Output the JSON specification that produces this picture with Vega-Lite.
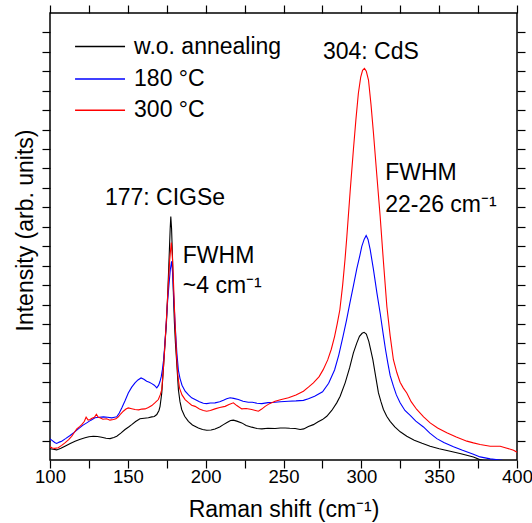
{
  "$schema": "https://vega.github.io/schema/vega-lite/v6.json",
  "width": 467,
  "height": 447,
  "autosize": {"type": "none"},
  "padding": {"left": 50, "top": 13, "right": 15, "bottom": 63},
  "config": {
    "font": "Liberation Sans",
    "view": {"stroke": "black", "strokeWidth": 1.5},
    "axis": {"grid": false, "domain": false, "tickColor": "black", "tickWidth": 1.2, "labelColor": "black", "titleColor": "black", "labelFont": "Liberation Sans", "titleFont": "Liberation Sans", "titleFontWeight": "normal"},
    "text": {"font": "Liberation Sans"}
  },
  "datasets": {
    "black": [
      {"series":"w.o. annealing","x":100,"y":0.58},{"series":"w.o. annealing","x":102,"y":0.55},{"series":"w.o. annealing","x":104.3,"y":0.52},{"series":"w.o. annealing","x":107,"y":0.6},{"series":"w.o. annealing","x":109.6,"y":0.71},{"series":"w.o. annealing","x":113,"y":0.85},{"series":"w.o. annealing","x":116.1,"y":0.97},{"series":"w.o. annealing","x":119,"y":1.06},{"series":"w.o. annealing","x":122.5,"y":1.14},{"series":"w.o. annealing","x":125,"y":1.2},{"series":"w.o. annealing","x":127.8,"y":1.22},{"series":"w.o. annealing","x":130.5,"y":1.21},{"series":"w.o. annealing","x":133.2,"y":1.17},{"series":"w.o. annealing","x":136,"y":1.12},{"series":"w.o. annealing","x":138.6,"y":1.1},{"series":"w.o. annealing","x":141,"y":1.16},{"series":"w.o. annealing","x":142.9,"y":1.22},{"series":"w.o. annealing","x":145.5,"y":1.38},{"series":"w.o. annealing","x":148.2,"y":1.57},{"series":"w.o. annealing","x":150.5,"y":1.7},{"series":"w.o. annealing","x":152.5,"y":1.82},{"series":"w.o. annealing","x":155,"y":1.98},{"series":"w.o. annealing","x":157.8,"y":2.12},{"series":"w.o. annealing","x":160.5,"y":2.15},{"series":"w.o. annealing","x":163.2,"y":2.17},{"series":"w.o. annealing","x":165.4,"y":2.22},{"series":"w.o. annealing","x":167,"y":2.24},{"series":"w.o. annealing","x":168.6,"y":2.34},{"series":"w.o. annealing","x":170,"y":2.55},{"series":"w.o. annealing","x":170.7,"y":2.76},{"series":"w.o. annealing","x":171.8,"y":3.45},{"series":"w.o. annealing","x":172.8,"y":4.65},{"series":"w.o. annealing","x":173.9,"y":6.02},{"series":"w.o. annealing","x":174.8,"y":7.05},{"series":"w.o. annealing","x":175.8,"y":8.9},{"series":"w.o. annealing","x":176.6,"y":10.6},{"series":"w.o. annealing","x":177.2,"y":11.9},{"series":"w.o. annealing","x":177.6,"y":12.53},{"series":"w.o. annealing","x":178.1,"y":11.9},{"series":"w.o. annealing","x":178.7,"y":10.4},{"series":"w.o. annealing","x":179.3,"y":8.5},{"series":"w.o. annealing","x":179.9,"y":7.1},{"series":"w.o. annealing","x":180.6,"y":6.0},{"series":"w.o. annealing","x":181.4,"y":5.0},{"series":"w.o. annealing","x":182.5,"y":3.6},{"series":"w.o. annealing","x":183.5,"y":3.0},{"series":"w.o. annealing","x":184.6,"y":2.6},{"series":"w.o. annealing","x":186.5,"y":2.25},{"series":"w.o. annealing","x":188.9,"y":1.99},{"series":"w.o. annealing","x":191.5,"y":1.8},{"series":"w.o. annealing","x":195.3,"y":1.65},{"series":"w.o. annealing","x":198,"y":1.57},{"series":"w.o. annealing","x":200.7,"y":1.53},{"series":"w.o. annealing","x":203.5,"y":1.54},{"series":"w.o. annealing","x":206,"y":1.6},{"series":"w.o. annealing","x":209,"y":1.7},{"series":"w.o. annealing","x":211.4,"y":1.82},{"series":"w.o. annealing","x":214,"y":1.94},{"series":"w.o. annealing","x":216,"y":2.03},{"series":"w.o. annealing","x":217.8,"y":2.05},{"series":"w.o. annealing","x":220,"y":2.0},{"series":"w.o. annealing","x":223.2,"y":1.91},{"series":"w.o. annealing","x":226,"y":1.78},{"series":"w.o. annealing","x":229.6,"y":1.69},{"series":"w.o. annealing","x":233,"y":1.62},{"series":"w.o. annealing","x":236.1,"y":1.6},{"series":"w.o. annealing","x":240,"y":1.63},{"series":"w.o. annealing","x":244.6,"y":1.62},{"series":"w.o. annealing","x":248,"y":1.65},{"series":"w.o. annealing","x":251,"y":1.65},{"series":"w.o. annealing","x":254,"y":1.63},{"series":"w.o. annealing","x":257.5,"y":1.62},{"series":"w.o. annealing","x":260.7,"y":1.57},{"series":"w.o. annealing","x":263,"y":1.6},{"series":"w.o. annealing","x":266,"y":1.72},{"series":"w.o. annealing","x":269.2,"y":1.82},{"series":"w.o. annealing","x":272,"y":1.95},{"series":"w.o. annealing","x":275,"y":2.08},{"series":"w.o. annealing","x":277.8,"y":2.25},{"series":"w.o. annealing","x":281,"y":2.55},{"series":"w.o. annealing","x":284.2,"y":2.94},{"series":"w.o. annealing","x":286.4,"y":3.28},{"series":"w.o. annealing","x":289.6,"y":3.97},{"series":"w.o. annealing","x":292.5,"y":4.75},{"series":"w.o. annealing","x":294.9,"y":5.51},{"series":"w.o. annealing","x":297,"y":6.0},{"series":"w.o. annealing","x":298.8,"y":6.36},{"series":"w.o. annealing","x":300.5,"y":6.52},{"series":"w.o. annealing","x":301.8,"y":6.57},{"series":"w.o. annealing","x":303.2,"y":6.48},{"series":"w.o. annealing","x":304.8,"y":6.1},{"series":"w.o. annealing","x":306.2,"y":5.6},{"series":"w.o. annealing","x":307.4,"y":5.16},{"series":"w.o. annealing","x":309.2,"y":4.3},{"series":"w.o. annealing","x":311,"y":3.45},{"series":"w.o. annealing","x":312.6,"y":3.0},{"series":"w.o. annealing","x":314.2,"y":2.6},{"series":"w.o. annealing","x":316.3,"y":2.25},{"series":"w.o. annealing","x":318.5,"y":1.99},{"series":"w.o. annealing","x":321.5,"y":1.7},{"series":"w.o. annealing","x":325,"y":1.45},{"series":"w.o. annealing","x":329.2,"y":1.22},{"series":"w.o. annealing","x":334,"y":1.02},{"series":"w.o. annealing","x":339,"y":0.86},{"series":"w.o. annealing","x":344.2,"y":0.71},{"series":"w.o. annealing","x":350,"y":0.58},{"series":"w.o. annealing","x":357.1,"y":0.45},{"series":"w.o. annealing","x":364,"y":0.32},{"series":"w.o. annealing","x":372,"y":0.15},{"series":"w.o. annealing","x":376,"y":0.02},{"series":"w.o. annealing","x":380,"y":-0.05},{"series":"w.o. annealing","x":390,"y":-0.15},{"series":"w.o. annealing","x":400,"y":-0.2}
    ],
    "blue": [
      {"series":"180 °C","x":100,"y":1.09},{"series":"180 °C","x":101.5,"y":1.0},{"series":"180 °C","x":103,"y":0.9},{"series":"180 °C","x":104.3,"y":0.85},{"series":"180 °C","x":106,"y":0.92},{"series":"180 °C","x":107.5,"y":0.97},{"series":"180 °C","x":110,"y":1.1},{"series":"180 °C","x":112.9,"y":1.26},{"series":"180 °C","x":115.5,"y":1.42},{"series":"180 °C","x":118.2,"y":1.6},{"series":"180 °C","x":121,"y":1.78},{"series":"180 °C","x":123.6,"y":1.91},{"series":"180 °C","x":126.3,"y":2.05},{"series":"180 °C","x":128.9,"y":2.17},{"series":"180 °C","x":131.5,"y":2.2},{"series":"180 °C","x":134.3,"y":2.22},{"series":"180 °C","x":137,"y":2.2},{"series":"180 °C","x":139.7,"y":2.17},{"series":"180 °C","x":141.5,"y":2.2},{"series":"180 °C","x":142.9,"y":2.22},{"series":"180 °C","x":144.5,"y":2.42},{"series":"180 °C","x":146.1,"y":2.68},{"series":"180 °C","x":148.2,"y":3.05},{"series":"180 °C","x":150.3,"y":3.45},{"series":"180 °C","x":152.5,"y":3.75},{"series":"180 °C","x":154.6,"y":3.97},{"series":"180 °C","x":156.5,"y":4.12},{"series":"180 °C","x":158.5,"y":4.22},{"series":"180 °C","x":160.3,"y":4.15},{"series":"180 °C","x":162.1,"y":4.05},{"series":"180 °C","x":163.8,"y":4.0},{"series":"180 °C","x":165.4,"y":3.93},{"series":"180 °C","x":167,"y":3.85},{"series":"180 °C","x":168.6,"y":3.71},{"series":"180 °C","x":169.8,"y":3.85},{"series":"180 °C","x":170.7,"y":4.05},{"series":"180 °C","x":171.5,"y":4.3},{"series":"180 °C","x":172.2,"y":4.65},{"series":"180 °C","x":172.9,"y":5.1},{"series":"180 °C","x":173.5,"y":5.68},{"series":"180 °C","x":174.4,"y":6.71},{"series":"180 °C","x":175.4,"y":8.0},{"series":"180 °C","x":176.4,"y":9.0},{"series":"180 °C","x":177.3,"y":9.8},{"series":"180 °C","x":178.1,"y":10.22},{"series":"180 °C","x":178.8,"y":9.6},{"series":"180 °C","x":179.4,"y":8.6},{"series":"180 °C","x":180.1,"y":7.4},{"series":"180 °C","x":180.8,"y":6.4},{"series":"180 °C","x":181.5,"y":5.5},{"series":"180 °C","x":182.5,"y":4.6},{"series":"180 °C","x":183.5,"y":4.2},{"series":"180 °C","x":184.8,"y":3.85},{"series":"180 °C","x":186.8,"y":3.54},{"series":"180 °C","x":189,"y":3.35},{"series":"180 °C","x":191,"y":3.2},{"series":"180 °C","x":193.2,"y":3.11},{"series":"180 °C","x":196,"y":3.0},{"series":"180 °C","x":198.5,"y":2.92},{"series":"180 °C","x":200.7,"y":2.9},{"series":"180 °C","x":203,"y":2.93},{"series":"180 °C","x":206,"y":2.94},{"series":"180 °C","x":209,"y":3.0},{"series":"180 °C","x":211.4,"y":3.07},{"series":"180 °C","x":213.5,"y":3.15},{"series":"180 °C","x":215.7,"y":3.2},{"series":"180 °C","x":218,"y":3.17},{"series":"180 °C","x":221,"y":3.11},{"series":"180 °C","x":224,"y":3.02},{"series":"180 °C","x":227.4,"y":2.97},{"series":"180 °C","x":230,"y":2.97},{"series":"180 °C","x":233,"y":2.92},{"series":"180 °C","x":236.1,"y":2.9},{"series":"180 °C","x":240,"y":2.95},{"series":"180 °C","x":244.6,"y":2.97},{"series":"180 °C","x":248,"y":3.0},{"series":"180 °C","x":253.2,"y":3.02},{"series":"180 °C","x":258,"y":3.04},{"series":"180 °C","x":262.8,"y":3.07},{"series":"180 °C","x":266,"y":3.15},{"series":"180 °C","x":270,"y":3.28},{"series":"180 °C","x":275.1,"y":3.51},{"series":"180 °C","x":279,"y":3.95},{"series":"180 °C","x":282.8,"y":4.63},{"series":"180 °C","x":285.5,"y":5.4},{"series":"180 °C","x":288.2,"y":6.35},{"series":"180 °C","x":290.5,"y":7.2},{"series":"180 °C","x":292.7,"y":8.1},{"series":"180 °C","x":295,"y":9.0},{"series":"180 °C","x":297.1,"y":9.85},{"series":"180 °C","x":299,"y":10.5},{"series":"180 °C","x":300.3,"y":10.99},{"series":"180 °C","x":301.8,"y":11.35},{"series":"180 °C","x":303.1,"y":11.55},{"series":"180 °C","x":304.3,"y":11.35},{"series":"180 °C","x":305.7,"y":10.82},{"series":"180 °C","x":307.8,"y":9.8},{"series":"180 °C","x":310,"y":8.6},{"series":"180 °C","x":312.2,"y":7.5},{"series":"180 °C","x":314,"y":6.5},{"series":"180 °C","x":315.5,"y":5.7},{"series":"180 °C","x":317,"y":5.0},{"series":"180 °C","x":318.5,"y":4.35},{"series":"180 °C","x":320.6,"y":3.8},{"series":"180 °C","x":322.5,"y":3.35},{"series":"180 °C","x":324.9,"y":2.95},{"series":"180 °C","x":328,"y":2.55},{"series":"180 °C","x":331.4,"y":2.3},{"series":"180 °C","x":335,"y":2.0},{"series":"180 °C","x":339.9,"y":1.7},{"series":"180 °C","x":344,"y":1.38},{"series":"180 °C","x":348.5,"y":1.1},{"series":"180 °C","x":353,"y":0.9},{"series":"180 °C","x":359.2,"y":0.68},{"series":"180 °C","x":365,"y":0.5},{"series":"180 °C","x":372,"y":0.3},{"series":"180 °C","x":376.3,"y":0.16},{"series":"180 °C","x":382.8,"y":0.06},{"series":"180 °C","x":389,"y":0.0},{"series":"180 °C","x":394,"y":-0.06},{"series":"180 °C","x":400,"y":-0.12}
    ],
    "red": [
      {"series":"300 °C","x":100,"y":0.68},{"series":"300 °C","x":101.5,"y":0.62},{"series":"300 °C","x":103,"y":0.6},{"series":"300 °C","x":105.3,"y":0.63},{"series":"300 °C","x":107.5,"y":0.75},{"series":"300 °C","x":109.6,"y":0.88},{"series":"300 °C","x":112,"y":1.05},{"series":"300 °C","x":113.9,"y":1.22},{"series":"300 °C","x":115.5,"y":1.4},{"series":"300 °C","x":117.2,"y":1.6},{"series":"300 °C","x":119,"y":1.72},{"series":"300 °C","x":120.4,"y":1.82},{"series":"300 °C","x":122,"y":1.98},{"series":"300 °C","x":123.2,"y":2.2},{"series":"300 °C","x":124.5,"y":2.05},{"series":"300 °C","x":125.7,"y":2.08},{"series":"300 °C","x":127,"y":2.15},{"series":"300 °C","x":128.5,"y":2.2},{"series":"300 °C","x":129.8,"y":2.35},{"series":"300 °C","x":131,"y":2.2},{"series":"300 °C","x":132.1,"y":2.17},{"series":"300 °C","x":134,"y":2.1},{"series":"300 °C","x":136.4,"y":2.12},{"series":"300 °C","x":138.5,"y":2.05},{"series":"300 °C","x":140.7,"y":2.08},{"series":"300 °C","x":142.3,"y":2.12},{"series":"300 °C","x":143.9,"y":2.22},{"series":"300 °C","x":145.5,"y":2.38},{"series":"300 °C","x":147.1,"y":2.51},{"series":"300 °C","x":148.8,"y":2.62},{"series":"300 °C","x":150.3,"y":2.68},{"series":"300 °C","x":152.5,"y":2.64},{"series":"300 °C","x":154.6,"y":2.6},{"series":"300 °C","x":157,"y":2.58},{"series":"300 °C","x":159,"y":2.62},{"series":"300 °C","x":161.1,"y":2.63},{"series":"300 °C","x":163.2,"y":2.7},{"series":"300 °C","x":165.4,"y":2.8},{"series":"300 °C","x":167.5,"y":2.95},{"series":"300 °C","x":169.6,"y":3.11},{"series":"300 °C","x":170.8,"y":3.35},{"series":"300 °C","x":171.8,"y":3.62},{"series":"300 °C","x":172.8,"y":4.65},{"series":"300 °C","x":173.9,"y":6.02},{"series":"300 °C","x":174.9,"y":7.4},{"series":"300 °C","x":175.9,"y":8.9},{"series":"300 °C","x":176.9,"y":10.3},{"series":"300 °C","x":177.9,"y":11.19},{"series":"300 °C","x":178.6,"y":10.5},{"series":"300 °C","x":179.3,"y":9.2},{"series":"300 °C","x":180,"y":7.7},{"series":"300 °C","x":180.7,"y":6.4},{"series":"300 °C","x":181.4,"y":5.2},{"series":"300 °C","x":182.2,"y":4.3},{"series":"300 °C","x":183.2,"y":3.7},{"series":"300 °C","x":184.8,"y":3.35},{"series":"300 °C","x":186.8,"y":3.11},{"series":"300 °C","x":189,"y":2.95},{"series":"300 °C","x":191,"y":2.82},{"series":"300 °C","x":193.2,"y":2.76},{"series":"300 °C","x":196,"y":2.62},{"series":"300 °C","x":198.5,"y":2.55},{"series":"300 °C","x":200.7,"y":2.51},{"series":"300 °C","x":203,"y":2.55},{"series":"300 °C","x":206,"y":2.63},{"series":"300 °C","x":209,"y":2.7},{"series":"300 °C","x":212.5,"y":2.76},{"series":"300 °C","x":215,"y":2.85},{"series":"300 °C","x":217.8,"y":2.94},{"series":"300 °C","x":220,"y":2.8},{"series":"300 °C","x":223.2,"y":2.63},{"series":"300 °C","x":226,"y":2.65},{"series":"300 °C","x":229.6,"y":2.6},{"series":"300 °C","x":232,"y":2.55},{"series":"300 °C","x":233.9,"y":2.51},{"series":"300 °C","x":236,"y":2.62},{"series":"300 °C","x":238.2,"y":2.76},{"series":"300 °C","x":241,"y":2.9},{"series":"300 °C","x":244.6,"y":3.02},{"series":"300 °C","x":248,"y":3.1},{"series":"300 °C","x":253.2,"y":3.2},{"series":"300 °C","x":258,"y":3.35},{"series":"300 °C","x":262.8,"y":3.54},{"series":"300 °C","x":266,"y":3.75},{"series":"300 °C","x":269.2,"y":3.97},{"series":"300 °C","x":272.9,"y":4.29},{"series":"300 °C","x":275.5,"y":4.65},{"series":"300 °C","x":278.4,"y":5.15},{"series":"300 °C","x":280.7,"y":5.7},{"series":"300 °C","x":282.8,"y":6.35},{"series":"300 °C","x":284.5,"y":7.0},{"series":"300 °C","x":286.2,"y":7.73},{"series":"300 °C","x":288,"y":9.0},{"series":"300 °C","x":289.5,"y":10.3},{"series":"300 °C","x":290.7,"y":11.5},{"series":"300 °C","x":292.8,"y":13.8},{"series":"300 °C","x":294.9,"y":15.96},{"series":"300 °C","x":296.5,"y":17.5},{"series":"300 °C","x":298.1,"y":18.87},{"series":"300 °C","x":299.6,"y":19.7},{"series":"300 °C","x":300.8,"y":20.05},{"series":"300 °C","x":302,"y":20.15},{"series":"300 °C","x":303.2,"y":20.0},{"series":"300 °C","x":304.6,"y":19.55},{"series":"300 °C","x":306.2,"y":18.3},{"series":"300 °C","x":307.8,"y":16.81},{"series":"300 °C","x":309.9,"y":14.7},{"series":"300 °C","x":312.1,"y":12.53},{"series":"300 °C","x":314.2,"y":10.2},{"series":"300 °C","x":316.4,"y":7.9},{"series":"300 °C","x":318.5,"y":6.4},{"series":"300 °C","x":320.6,"y":5.16},{"series":"300 °C","x":322.8,"y":4.5},{"series":"300 °C","x":324.9,"y":4.0},{"series":"300 °C","x":327,"y":3.7},{"series":"300 °C","x":329.2,"y":3.45},{"series":"300 °C","x":332,"y":3.0},{"series":"300 °C","x":335.6,"y":2.6},{"series":"300 °C","x":340,"y":2.22},{"series":"300 °C","x":344.2,"y":1.91},{"series":"300 °C","x":349,"y":1.65},{"series":"300 °C","x":354.9,"y":1.4},{"series":"300 °C","x":361,"y":1.18},{"series":"300 °C","x":367.8,"y":0.97},{"series":"300 °C","x":372,"y":0.88},{"series":"300 °C","x":376.3,"y":0.8},{"series":"300 °C","x":382.8,"y":0.71},{"series":"300 °C","x":389.2,"y":0.71},{"series":"300 °C","x":393,"y":0.62},{"series":"300 °C","x":397.8,"y":0.5},{"series":"300 °C","x":400,"y":0.4}
    ],
    "legendRows": [
      {"series": "w.o. annealing", "x1": 116.1, "x2": 148.2, "tx": 154.0, "y": 21.27},
      {"series": "180 °C", "x1": 116.1, "x2": 148.2, "tx": 154.0, "y": 19.61},
      {"series": "300 °C", "x1": 116.1, "x2": 148.2, "tx": 154.0, "y": 17.99}
    ],
    "notesCenter": [
      {"label": "304: CdS", "x": 306.1, "y": 20.61},
      {"label": "177: CIGSe", "x": 173.9, "y": 13.13}
    ],
    "notesLeft": [
      {"label": "FWHM", "x": 315.3, "y": 14.41},
      {"label": "22-26 cm⁻¹", "x": 315.3, "y": 12.77},
      {"label": "FWHM", "x": 185.3, "y": 10.13},
      {"label": "~4 cm⁻¹", "x": 185.3, "y": 8.59}
    ]
  },
  "resolve": {"axis": {"x": "independent", "y": "independent"}},
  "layer": [
    {
      "data": {"name": "black"},
      "mark": {"type": "line", "strokeWidth": 1.1, "clip": true},
      "encoding": {
        "x": {"field": "x", "type": "quantitative", "scale": {"domain": [100, 400], "nice": false, "zero": false},
          "axis": {"orient": "bottom", "values": [100,125,150,175,200,225,250,275,300,325,350,375,400], "tickSize": 8, "labelExpr": "datum.value % 50 === 0 ? datum.label : ''", "labelFontSize": 18.5, "labelPadding": -1, "labelFlush": false, "labelOverlap": false, "title": "Raman shift (cm⁻¹)", "titleFontSize": 23, "titleBaseline": "alphabetic", "titleY": 56,
            "encode": {"ticks": {"update": {"y2": {"signal": "datum.value % 50 === 0 ? -8 : -4"}}}}}},
        "y": {"field": "y", "type": "quantitative", "scale": {"domain": [0, 23], "nice": false, "zero": false},
          "axis": {"orient": "left", "values": [1,2,3,4,5,6,7,8,9,10,11,12,13,14,15,16,17,18,19,20,21,22], "tickSize": 8, "labels": false, "title": "Intensity (arb. units)", "titleFontSize": 23, "titleX": -25, "titleY": 217, "titleBaseline": "middle",
            "encode": {"ticks": {"update": {"x2": {"signal": "datum.value % 2 === 1 ? 8 : 4"}}}}}},
        "color": {"field": "series", "type": "nominal",
          "scale": {"domain": ["w.o. annealing", "180 °C", "300 °C"], "range": ["#000000", "#0000ff", "#ff0000"]},
          "legend": null}
      }
    },
    {
      "data": {"name": "blue"},
      "mark": {"type": "line", "strokeWidth": 1.1, "clip": true},
      "encoding": {
        "x": {"field": "x", "type": "quantitative", "axis": null},
        "y": {"field": "y", "type": "quantitative", "axis": null},
        "color": {"field": "series", "type": "nominal", "legend": null}
      }
    },
    {
      "data": {"name": "red"},
      "mark": {"type": "line", "strokeWidth": 1.1, "clip": true},
      "encoding": {
        "x": {"field": "x", "type": "quantitative", "axis": null},
        "y": {"field": "y", "type": "quantitative", "axis": null},
        "color": {"field": "series", "type": "nominal", "legend": null}
      }
    },
    {
      "data": {"name": "legendRows"},
      "mark": {"type": "rule", "strokeWidth": 1.5},
      "encoding": {
        "x": {"field": "x1", "type": "quantitative", "axis": null},
        "x2": {"field": "x2"},
        "y": {"field": "y", "type": "quantitative", "axis": null},
        "color": {"field": "series", "type": "nominal", "legend": null}
      }
    },
    {
      "data": {"name": "legendRows"},
      "mark": {"type": "text", "fontSize": 23, "align": "left", "baseline": "middle", "color": "black"},
      "encoding": {
        "x": {"field": "tx", "type": "quantitative", "axis": null},
        "y": {"field": "y", "type": "quantitative", "axis": null},
        "text": {"field": "series"}
      }
    },
    {
      "data": {"name": "notesCenter"},
      "mark": {"type": "text", "fontSize": 23, "align": "center", "baseline": "alphabetic", "color": "black"},
      "encoding": {
        "x": {"field": "x", "type": "quantitative",
          "axis": {"orient": "top", "values": [100,125,150,175,200,225,250,275,300,325,350,375,400], "tickSize": 8, "labels": false, "title": null,
            "encode": {"ticks": {"update": {"y2": {"signal": "datum.value % 50 === 0 ? 8 : 4"}}}}}},
        "y": {"field": "y", "type": "quantitative",
          "axis": {"orient": "right", "values": [1,2,3,4,5,6,7,8,9,10,11,12,13,14,15,16,17,18,19,20,21,22], "tickSize": 8, "labels": false, "title": null,
            "encode": {"ticks": {"update": {"x2": {"signal": "datum.value % 2 === 1 ? -8 : -4"}}}}}},
        "text": {"field": "label"}
      }
    },
    {
      "data": {"name": "notesLeft"},
      "mark": {"type": "text", "fontSize": 23, "align": "left", "baseline": "alphabetic", "color": "black"},
      "encoding": {
        "x": {"field": "x", "type": "quantitative", "axis": null},
        "y": {"field": "y", "type": "quantitative", "axis": null},
        "text": {"field": "label"}
      }
    }
  ]
}
